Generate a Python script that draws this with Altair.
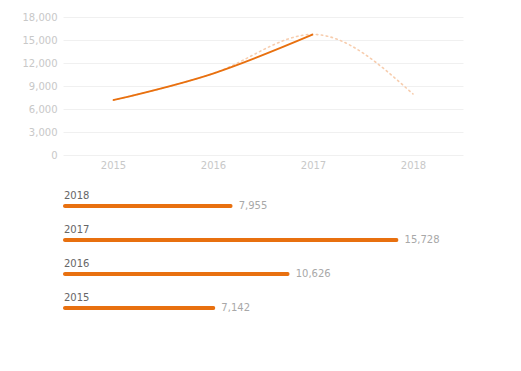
import altair as alt
import pandas as pd

years = ["2015", "2016", "2017", "2018"]
values = [7142, 10626, 15728, 7955]
value_labels = ["7,142", "10,626", "15,728", "7,955"]
actual_years = ["2015", "2016", "2017"]
actual_values = [7142, 10626, 15728]
y_ticks = [0, 3000, 6000, 9000, 12000, 15000, 18000]

FONT = "DejaVu Sans"
ORANGE = "#E8700F"

df_all = pd.DataFrame({"year": years, "value": values, "label": value_labels})
df_act = pd.DataFrame({"year": actual_years, "value": actual_values})

xs = alt.Scale(type="point", domain=years, padding=0.5)
ys = alt.Scale(domain=[0, 18000])

x_axis = alt.Axis(title=None, labelColor="#c8c8c8", labelFontSize=10, labelFont=FONT,
                  ticks=False, domain=False, grid=False, labelPadding=5, labelAngle=0)
y_axis = alt.Axis(title=None, values=y_ticks, format=",d", labelColor="#c8c8c8",
                  labelFontSize=10, labelFont=FONT, ticks=False, domain=False,
                  gridColor="#f0f0f0", labelPadding=6, minExtent=55, maxExtent=55)

dotted = alt.Chart(df_all).mark_line(
    interpolate="monotone", color="#F7CDAE", strokeWidth=1.6, strokeDash=[1.5, 3.5],
    strokeCap="round"
).encode(x=alt.X("year:O", scale=xs, axis=x_axis),
         y=alt.Y("value:Q", scale=ys, axis=y_axis))

solid = alt.Chart(df_act).mark_line(
    interpolate="monotone", color=ORANGE, strokeWidth=1.8
).encode(x=alt.X("year:O", scale=xs, axis=x_axis),
         y=alt.Y("value:Q", scale=ys, axis=y_axis))

top = alt.layer(dotted, solid).properties(width=400, height=138)

order = ["2018", "2017", "2016", "2015"]
yb = alt.Y("year:O", sort=order,
           scale=alt.Scale(type="band", paddingInner=0, paddingOuter=0),
           axis=alt.Axis(title=None, labels=False, ticks=False, domain=False, grid=False,
                         minExtent=55, maxExtent=55))
xb = alt.Scale(domain=[0, 18750])

bars = alt.Chart(df_all).mark_bar(
    height=4, yOffset=5, cornerRadius=2, color=ORANGE
).encode(x=alt.X("value:Q", scale=xb, axis=None), y=yb)

vals = alt.Chart(df_all).mark_text(
    align="left", baseline="middle", dx=6, dy=5, font=FONT, fontSize=10, color="#a8a8a8"
).encode(x=alt.X("value:Q", scale=xb), y=yb, text="label:N")

names = alt.Chart(df_all).mark_text(
    align="left", baseline="middle", dy=-5, dx=1, font=FONT, fontSize=10, color="#666666"
).encode(x=alt.value(0), y=yb, text="year:N")

bottom = alt.layer(bars, vals, names).properties(width=400, height=136)

chart = alt.vconcat(top, bottom, spacing=14).configure(
    padding={"left": 0, "top": 4, "right": 5, "bottom": 5}).configure_view(stroke=None)

chart.save("out.html", embed_options={"renderer": "svg", "actions": False})
